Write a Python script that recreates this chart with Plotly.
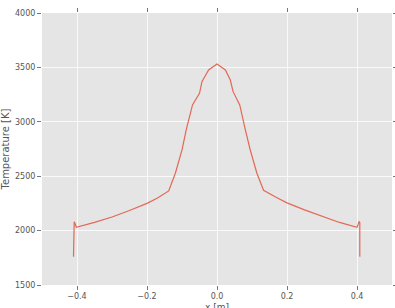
import plotly.graph_objects as go

x_m = [-0.41, -0.41, -0.408, -0.405, -0.402, -0.35, -0.30, -0.25, -0.20, -0.17, -0.138,
       -0.119, -0.10, -0.088, -0.07, -0.05, -0.043, -0.024, 0.0,
       0.024, 0.038, 0.046, 0.065, 0.081, 0.095, 0.114, 0.133,
       0.17, 0.20, 0.25, 0.30, 0.35, 0.40, 0.403, 0.406, 0.408, 0.408]
temp_k = [1760, 2075, 2082, 2060, 2030, 2075, 2125, 2185, 2250, 2300, 2365,
          2527, 2741, 2925, 3155, 3262, 3369, 3476, 3531,
          3476, 3384, 3277, 3155, 2925, 2741, 2527, 2370,
          2305, 2255, 2190, 2130, 2075, 2030, 2060, 2082, 2075, 1760]

x_ticks = [-0.4, -0.2, 0.0, 0.2, 0.4]
y_ticks = [1500, 2000, 2500, 3000, 3500, 4000]

fig = go.Figure()
fig.add_trace(go.Scatter(x=x_m, y=temp_k, mode="lines",
                         line=dict(color="#E24A33", width=1.2), opacity=0.8))

axis_common = dict(
    showgrid=True, gridcolor="rgba(255,255,255,0.75)", gridwidth=1, zeroline=False,
    showline=False, ticks="outside", ticklen=4, tickcolor="#777777",
    tickfont=dict(family="DejaVu Sans", size=8, color="#555555"),
    mirror="ticks",
)

fig.update_layout(
    width=395, height=308,
    margin=dict(l=42, r=3, t=13, b=23),
    paper_bgcolor="white", plot_bgcolor="#E5E5E5",
    showlegend=False,
    xaxis=dict(range=[-0.5, 0.5], tickvals=x_ticks, tickformat=".1f",
               ticklabelstandoff=-1, **axis_common),
    yaxis=dict(range=[1500, 4000], tickvals=y_ticks,
               title=dict(text="Temperature [K]", font=dict(family="DejaVu Sans", size=10, color="#555555"), standoff=4),
               **axis_common),
    annotations=[dict(text="x [m]", xref="paper", yref="paper", x=0.5, y=-0.054,
                      xanchor="center", yanchor="top", showarrow=False,
                      font=dict(family="DejaVu Sans", size=9, color="#555555"))],
)
fig.update_xaxes(automargin=False)
fig.update_yaxes(automargin=False)

fig.write_html("out.html")
